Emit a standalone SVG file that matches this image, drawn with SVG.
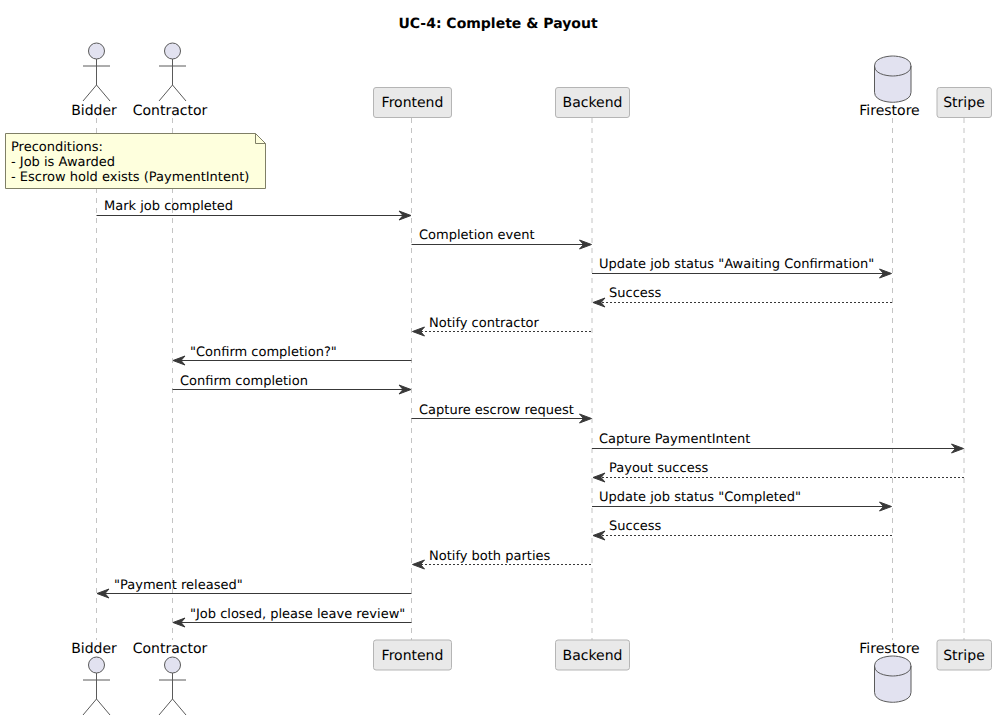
<svg xmlns="http://www.w3.org/2000/svg" width="996" height="720" viewBox="0 0 996 720">
<style>
text{font-family:"DejaVu Sans",sans-serif;font-size:13px;fill:#000;text-rendering:geometricPrecision}
.t{font-size:14px}
.m{font-size:13px}
.life{stroke:#c4c4c4;stroke-width:1;stroke-dasharray:5 5}
.box{fill:#e9e9e9;stroke:#b5b5b5;stroke-width:1}
.act{fill:#e2e2f0;stroke:#5a5a5a;stroke-width:1}
.lim{fill:none;stroke:#5a5a5a;stroke-width:1}
.c{stroke:#383838;stroke-width:1;fill:none}
.d{stroke-dasharray:2 2}
.h{fill:#383838;stroke:#383838;stroke-width:1}
</style>
<defs>
<g id="actor"><circle class="act" cx="0" cy="0" r="8"/><path class="lim" d="M0 8V34M-13.500 15H13.500M0 34L-13.500 50M0 34L13.500 50"/></g>
<g id="db"><path class="act" d="M0 10C0 0 18.250 0 18.250 0C18.250 0 36.500 0 36.500 10V36.300C36.500 46.300 18.250 46.300 18.250 46.300C18.250 46.300 0 46.300 0 36.300Z"/><path class="lim" d="M0 10C0 20 18.250 20 18.250 20C18.250 20 36.500 20 36.500 10"/></g>
<polygon id="r" class="h" points="0,0 -12,-4.500 -8,0 -12,4.500"/>
<polygon id="l" class="h" points="0,0 12,-4.500 8,0 12,4.500"/>
</defs>
<text x="498" y="28" text-anchor="middle" style="font-weight:bold;font-size:14px">UC-4: Complete &amp; Payout</text>
<g id="lifelines">
<line class="life" x1="96.500" y1="118" x2="96.500" y2="640"/>
<line class="life" x1="172.500" y1="118" x2="172.500" y2="640"/>
<line class="life" x1="411.500" y1="118" x2="411.500" y2="640"/>
<line class="life" x1="592" y1="118" x2="592" y2="640"/>
<line class="life" x1="892.500" y1="118" x2="892.500" y2="640"/>
<line class="life" x1="964" y1="118" x2="964" y2="640"/>
</g>
<g id="node-bidder"><use href="#actor" x="96.500" y="51"/><text class="t" x="94" y="115" text-anchor="middle">Bidder</text><text class="t" x="94" y="653" text-anchor="middle">Bidder</text><use href="#actor" x="96.500" y="665"/></g>
<g id="node-contractor"><use href="#actor" x="172.500" y="51"/><text class="t" x="170" y="115" text-anchor="middle">Contractor</text><text class="t" x="170" y="653" text-anchor="middle">Contractor</text><use href="#actor" x="172.500" y="665"/></g>
<g id="node-frontend"><rect class="box" x="373.500" y="87.500" width="78" height="30" rx="2.500"/><text class="t" x="412.500" y="107" text-anchor="middle">Frontend</text><rect class="box" x="373.500" y="640" width="78" height="30" rx="2.500"/><text class="t" x="412.500" y="660" text-anchor="middle">Frontend</text></g>
<g id="node-backend"><rect class="box" x="555.500" y="87.500" width="74" height="30" rx="2.500"/><text class="t" x="592.500" y="107" text-anchor="middle">Backend</text><rect class="box" x="555.500" y="640" width="74" height="30" rx="2.500"/><text class="t" x="592.500" y="660" text-anchor="middle">Backend</text></g>
<g id="node-firestore"><use href="#db" x="874.500" y="56"/><text class="t" x="889.500" y="115" text-anchor="middle">Firestore</text><text class="t" x="889.500" y="653" text-anchor="middle">Firestore</text><use href="#db" x="874.500" y="656"/></g>
<g id="node-stripe"><rect class="box" x="937" y="87.500" width="54.500" height="30" rx="2.500"/><text class="t" x="964" y="107" text-anchor="middle">Stripe</text><rect class="box" x="937" y="640" width="54.500" height="30" rx="2.500"/><text class="t" x="964" y="660" text-anchor="middle">Stripe</text></g>
<g id="note-preconditions">
<path d="M5.500 133.500H255.500L265.500 143.500V188.500H5.500Z" fill="#feffdd" stroke="#7f7f66"/>
<path d="M255.500 133.500V143.500H265.500" fill="none" stroke="#7f7f66"/>
<text x="11" y="151">Preconditions:</text>
<text x="11" y="166">- Job is Awarded</text>
<text x="11" y="181">- Escrow hold exists (PaymentIntent)</text>
</g>
<g id="connectors">
<line class="c" x1="96.500" y1="215.500" x2="410" y2="215.500"/><use href="#r" x="411" y="215.500"/><text class="m" x="104" y="210">Mark job completed</text>
<line class="c" x1="411.500" y1="244.500" x2="590" y2="244.500"/><use href="#r" x="591.500" y="244.500"/><text class="m" x="419" y="239">Completion event</text>
<line class="c" x1="592" y1="273.500" x2="890" y2="273.500"/><use href="#r" x="891.500" y="273.500"/><text class="m" x="599" y="268">Update job status "Awaiting Confirmation"</text>
<line class="c d" x1="594" y1="302.500" x2="892" y2="302.500"/><use href="#l" x="593" y="302.500"/><text class="m" x="609" y="297">Success</text>
<line class="c d" x1="413" y1="331.500" x2="592" y2="331.500"/><use href="#l" x="412.500" y="331.500"/><text class="m" x="429" y="327">Notify contractor</text>
<line class="c" x1="174" y1="360.500" x2="411.500" y2="360.500"/><use href="#l" x="173" y="360.500"/><text class="m" x="190" y="356">"Confirm completion?"</text>
<line class="c" x1="172.500" y1="389.500" x2="410" y2="389.500"/><use href="#r" x="411" y="389.500"/><text class="m" x="180" y="385">Confirm completion</text>
<line class="c" x1="411.500" y1="418.500" x2="590" y2="418.500"/><use href="#r" x="591.500" y="418.500"/><text class="m" x="419" y="414">Capture escrow request</text>
<line class="c" x1="592" y1="448.500" x2="962" y2="448.500"/><use href="#r" x="963.500" y="448.500"/><text class="m" x="599" y="443">Capture PaymentIntent</text>
<line class="c d" x1="594" y1="477.500" x2="964" y2="477.500"/><use href="#l" x="593" y="477.500"/><text class="m" x="609" y="472">Payout success</text>
<line class="c" x1="592" y1="506.500" x2="890" y2="506.500"/><use href="#r" x="891.500" y="506.500"/><text class="m" x="599" y="501">Update job status "Completed"</text>
<line class="c d" x1="594" y1="535.500" x2="892" y2="535.500"/><use href="#l" x="593" y="535.500"/><text class="m" x="609" y="530">Success</text>
<line class="c d" x1="413" y1="564.500" x2="592" y2="564.500"/><use href="#l" x="412.500" y="564.500"/><text class="m" x="429" y="560">Notify both parties</text>
<line class="c" x1="98" y1="593.500" x2="411.500" y2="593.500"/><use href="#l" x="97" y="593.500"/><text class="m" x="114" y="589">"Payment released"</text>
<line class="c" x1="174" y1="622.500" x2="411.500" y2="622.500"/><use href="#l" x="173" y="622.500"/><text class="m" x="190" y="618">"Job closed, please leave review"</text>
</g>
</svg>
